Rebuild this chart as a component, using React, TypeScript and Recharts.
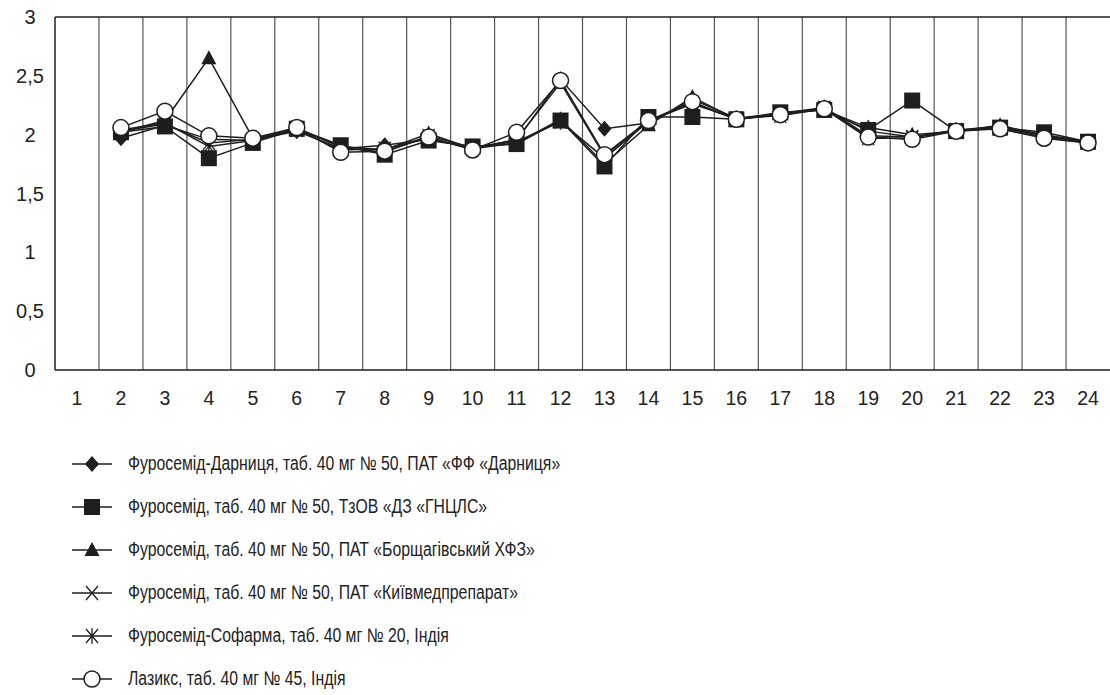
import { LineChart, Line, XAxis, YAxis, ReferenceLine, Legend } from 'recharts'

const FONT = '"Liberation Sans", Arial, sans-serif'

const samples = [1, 2, 3, 4, 5, 6, 7, 8, 9, 10, 11, 12, 13, 14, 15, 16, 17, 18, 19, 20, 21, 22, 23, 24]
const yTicks = [0, 0.5, 1, 1.5, 2, 2.5, 3]

const darnytsia = [null, 1.97, 2.08, 1.96, 1.95, 2.03, 1.88, 1.91, 1.96, 1.89, 1.95, 2.47, 2.05, 2.10, 2.30, 2.14, 2.18, 2.22, 2.03, 1.98, 2.04, 2.07, 2.00, 1.94]
const gnclc = [null, 2.02, 2.07, 1.80, 1.93, 2.05, 1.91, 1.83, 1.95, 1.90, 1.92, 2.12, 1.73, 2.15, 2.15, 2.13, 2.19, 2.21, 2.04, 2.29, 2.03, 2.06, 2.02, 1.94]
const borshchahiv = [null, 2.02, 2.12, 2.65, 1.97, 2.05, 1.90, 1.87, 2.01, 1.88, 1.93, 2.13, 1.75, 2.08, 2.32, 2.13, 2.18, 2.21, 2.06, 2.00, 2.03, 2.08, 1.99, 1.93]
const kyivmed = [null, 2.03, 2.09, 1.93, 1.96, 2.04, 1.87, 1.88, 1.97, 1.88, 1.96, 2.44, 1.82, 2.12, 2.26, 2.14, 2.16, 2.22, 1.97, 1.97, 2.04, 2.05, 1.98, 1.93]
const sopharma = [null, 2.04, 2.10, 1.90, 1.95, 2.06, 1.89, 1.85, 1.99, 1.89, 1.94, 2.11, 1.80, 2.11, 2.27, 2.13, 2.18, 2.23, 1.99, 1.98, 2.03, 2.06, 1.99, 1.94]
const lasix = [null, 2.06, 2.20, 1.99, 1.97, 2.06, 1.85, 1.86, 1.98, 1.87, 2.02, 2.46, 1.83, 2.12, 2.28, 2.13, 2.17, 2.22, 1.98, 1.96, 2.03, 2.05, 1.97, 1.93]

const names = [
  'Фуросемід-Дарниця, таб. 40 мг № 50, ПАТ «ФФ «Дарниця»',
  'Фуросемід, таб. 40 мг № 50, ТзОВ «ДЗ «ГНЦЛС»',
  'Фуросемід, таб. 40 мг № 50, ПАТ «Борщагівський ХФЗ»',
  'Фуросемід, таб. 40 мг № 50, ПАТ «Київмедпрепарат»',
  'Фуросемід-Софарма, таб. 40 мг № 20, Індія',
  'Лазикс, таб. 40 мг № 45, Індія',
]

const data = samples.map((n, i) => ({
  n,
  darnytsia: darnytsia[i],
  gnclc: gnclc[i],
  borshchahiv: borshchahiv[i],
  kyivmed: kyivmed[i],
  sopharma: sopharma[i],
  lasix: lasix[i],
}))

const INK = '#1e1e1e'

type MarkerKind = 'diamond' | 'square' | 'triangle' | 'cross' | 'star' | 'circle'

function Marker({ kind, cx, cy }: { kind: MarkerKind; cx: number; cy: number }) {
  switch (kind) {
    case 'diamond':
      return <path d={`M${cx},${cy - 8}L${cx + 7},${cy}L${cx},${cy + 8}L${cx - 7},${cy}Z`} fill={INK} />
    case 'square':
      return <rect x={cx - 8} y={cy - 8} width={16} height={16} fill={INK} />
    case 'triangle':
      return <path d={`M${cx},${cy - 8}L${cx + 7.5},${cy + 6}L${cx - 7.5},${cy + 6}Z`} fill={INK} />
    case 'cross':
      return (
        <path
          d={`M${cx - 6},${cy - 7}L${cx + 6},${cy + 7}M${cx + 6},${cy - 7}L${cx - 6},${cy + 7}`}
          stroke={INK}
          strokeWidth={1.3}
        />
      )
    case 'star':
      return (
        <path
          d={`M${cx - 6},${cy - 7}L${cx + 6},${cy + 7}M${cx + 6},${cy - 7}L${cx - 6},${cy + 7}M${cx},${cy - 8}L${cx},${cy + 8}`}
          stroke={INK}
          strokeWidth={1.3}
        />
      )
    default:
      return <circle cx={cx} cy={cy} r={8} fill="#fff" stroke={INK} strokeWidth={1.5} />
  }
}

const series: { key: string; kind: MarkerKind }[] = [
  { key: 'darnytsia', kind: 'diamond' },
  { key: 'gnclc', kind: 'square' },
  { key: 'borshchahiv', kind: 'triangle' },
  { key: 'kyivmed', kind: 'cross' },
  { key: 'sopharma', kind: 'star' },
  { key: 'lasix', kind: 'circle' },
]

const dotFor = (kind: MarkerKind) => (props: any) => {
  const { cx, cy, index, value } = props
  if (value == null || cy == null || isNaN(cy)) return <g key={`${kind}-${index}`} />
  return (
    <g key={`${kind}-${index}`}>
      <Marker kind={kind} cx={cx} cy={cy} />
    </g>
  )
}

// legend text in the source is a narrow face; squeeze Liberation Sans to match
const renderLegend = () => (
  <div style={{ fontFamily: FONT, fontSize: 19.5, color: '#222' }}>
    {series.map((s, i) => (
      <div key={s.key} style={{ display: 'flex', alignItems: 'center', height: 43 }}>
        <svg width={58} height={20} style={{ flex: 'none' }}>
          <line x1={2} x2={42} y1={10} y2={10} stroke={INK} strokeWidth={1.5} />
          <Marker kind={s.kind} cx={22} cy={10} />
        </svg>
        <span
          style={{
            display: 'inline-block',
            whiteSpace: 'nowrap',
            transform: 'scaleX(0.81)',
            transformOrigin: 'left center',
          }}
        >
          {names[i]}
        </span>
      </div>
    ))}
  </div>
)

const boundaries = samples.slice(1).map((n) => n - 0.5)

export default function App() {
  return (
    <div style={{ position: 'absolute', left: 0, top: 0, background: '#fff' }}>
      <LineChart width={1110} height={695} data={data} margin={{ top: 17, right: 0, left: 0, bottom: 295 }}>
        <XAxis
          dataKey="n"
          type="number"
          domain={[0.5, 24.5]}
          ticks={samples}
          interval={0}
          tickLine={false}
          tickMargin={15}
          height={30}
          axisLine={{ stroke: INK, strokeWidth: 1.5 }}
          tick={{ fill: '#222', fontSize: 19.5, fontFamily: FONT }}
        />
        <YAxis
          type="number"
          domain={[0, 3]}
          ticks={yTicks}
          width={55}
          tickLine={false}
          axisLine={{ stroke: INK, strokeWidth: 1.5 }}
          tickFormatter={(v: number) => String(v).replace('.', ',')}
          tick={{ fill: '#222', fontSize: 20, fontFamily: FONT, textAnchor: 'middle', dx: -17 }}
        />
        {boundaries.map((b) => (
          <ReferenceLine key={b} x={b} stroke="#555" strokeWidth={1.2} />
        ))}
        <ReferenceLine y={3} stroke={INK} strokeWidth={1.5} />
        {series.map((s) => (
          <Line
            key={s.key}
            dataKey={s.key}
            name={s.key}
            stroke={INK}
            strokeWidth={1.5}
            dot={dotFor(s.kind)}
            activeDot={false}
            isAnimationActive={false}
          />
        ))}
        <Legend
          layout="vertical"
          align="center"
          verticalAlign="middle"
          content={renderLegend}
          wrapperStyle={{ left: 70, top: 442, width: 'auto' }}
        />
      </LineChart>
    </div>
  )
}
